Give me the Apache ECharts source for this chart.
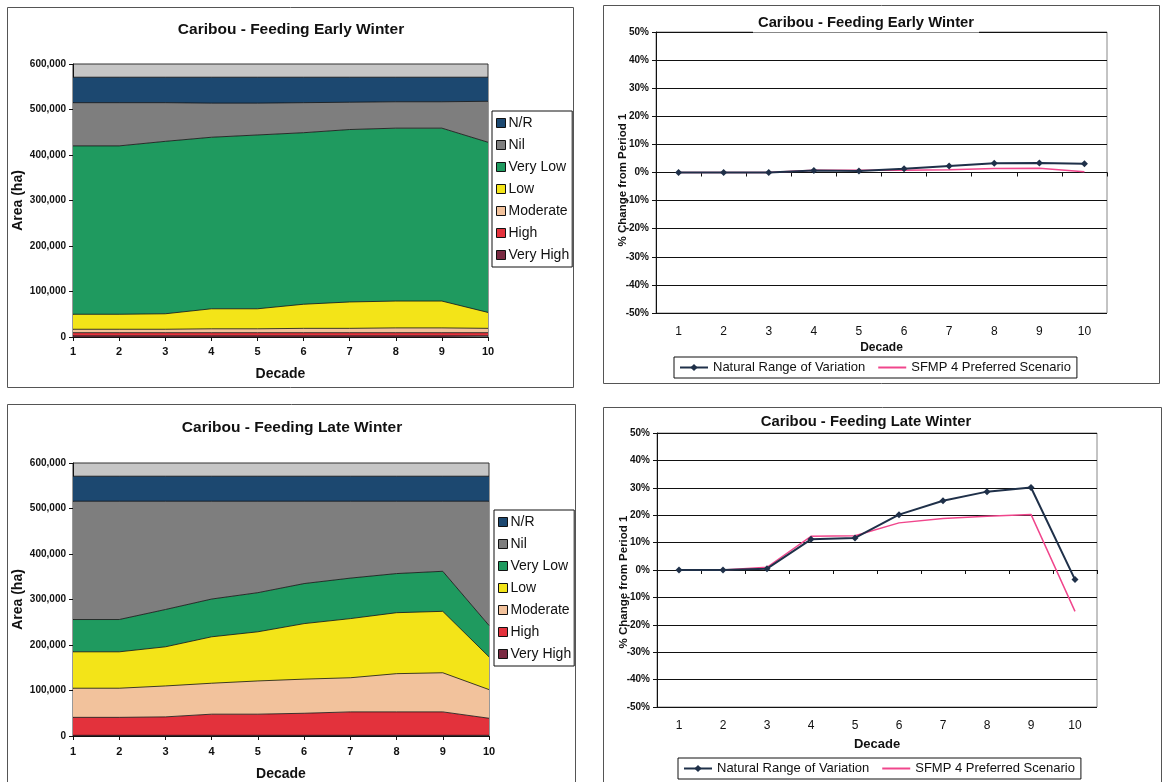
<!DOCTYPE html>
<html>
<head>
<meta charset="utf-8">
<script src="https://cdn.jsdelivr.net/npm/echarts@6/dist/echarts.min.js"></script>
<style>
  html, body { margin: 0; padding: 0; background: #fff; }
  #chart { width: 1162px; height: 782px; }
</style>
</head>
<body>
<div id="chart"></div>
<script>
// ---------- data ----------
const decades = ['1', '2', '3', '4', '5', '6', '7', '8', '9', '10'];
const classNames = ['Very High', 'High', 'Moderate', 'Low', 'Very Low', 'Nil', 'N/R'];
const legendOrder = ['N/R', 'Nil', 'Very Low', 'Low', 'Moderate', 'High', 'Very High'];

// Caribou - Feeding Early Winter, area (ha) per class
const ewVeryHigh = [2500, 2500, 2500, 2500, 2500, 2500, 2500, 2500, 2500, 2500];
const ewHigh     = [7000, 7000, 7000, 7000, 7000, 7000, 7000, 7000, 7000, 7000];
const ewModerate = [7500, 7500, 7500, 8500, 8500, 9500, 9500, 10500, 10500, 9500];
const ewLow      = [33000, 33000, 34000, 44000, 44000, 53000, 58000, 59000, 59000, 35000];
const ewVeryLow  = [370000, 370000, 379000, 377000, 382000, 377000, 379000, 380000, 380000, 374000];
const ewNil      = [95000, 95000, 85000, 75000, 70000, 66000, 60000, 58000, 58000, 90000];
const ewNR       = [56000, 56000, 56000, 57000, 57000, 56000, 55000, 54000, 54000, 53000];

// Caribou - Feeding Late Winter, area (ha) per class
const lwVeryHigh = [1500, 1500, 1500, 1500, 1500, 1500, 1500, 1500, 1500, 1500];
const lwHigh     = [39500, 39500, 40500, 46500, 46500, 48500, 51500, 51500, 51500, 37500];
const lwModerate = [64000, 64000, 68000, 68000, 73000, 75000, 75000, 84000, 86000, 63000];
const lwLow      = [80000, 80000, 86000, 102000, 108000, 122000, 130000, 134000, 135000, 72000];
const lwVeryLow  = [71000, 71000, 82000, 83000, 86000, 88000, 89000, 86000, 88000, 69000];
const lwNil      = [260000, 260000, 238000, 215000, 201000, 181000, 169000, 159000, 154000, 273000];
const lwNR       = [55000, 55000, 55000, 55000, 55000, 55000, 55000, 55000, 55000, 55000];

// % change from period 1
const ewNatural = [0, 0, 0, 0.7, 0.5, 1.3, 2.3, 3.3, 3.4, 3.1];
const ewSfmp    = [0, 0, 0, 0.8, 0.8, 0.8, 1.0, 1.4, 1.5, 0.3];
const lwNatural = [0, 0, 0.5, 11.2, 11.7, 20.2, 25.3, 28.6, 30.1, -3.5];
const lwSfmp    = [0, 0, 1.0, 12.3, 12.5, 17.2, 18.8, 19.6, 20.3, -15.1];

const natName = 'Natural Range of Variation';
const sfmpName = 'SFMP 4 Preferred Scenario';

// ---------- styles ----------
const FONT = '"Liberation Sans", Arial, sans-serif';
const classColors = {
  'Very High': '#7a2a42',
  'High': '#e3323c',
  'Moderate': '#f2c29c',
  'Low': '#f3e418',
  'Very Low': '#1f9a5f',
  'Nil': '#7e7e7e',
  'N/R': '#1c4870'
};
const natColor = '#1f3049';
const sfmpColor = '#f0468c';

const ewSets = [ewVeryHigh, ewHigh, ewModerate, ewLow, ewVeryLow, ewNil, ewNR];
const lwSets = [lwVeryHigh, lwHigh, lwModerate, lwLow, lwVeryLow, lwNil, lwNR];

function areaSeries(sets, idx, stack) {
  return classNames.map((name, i) => ({
    name: name,
    type: 'line',
    stack: stack,
    xAxisIndex: idx,
    yAxisIndex: idx,
    data: sets[i],
    symbol: 'none',
    lineStyle: { color: '#111', width: 0.8 },
    itemStyle: { color: classColors[name] },
    areaStyle: { color: classColors[name], opacity: 1 },
    emphasis: { disabled: true }
  }));
}

function leftX(gridIndex, labelMargin, nameGap) {
  return {
    type: 'category', gridIndex: gridIndex, data: decades, boundaryGap: false,
    name: 'Decade', nameLocation: 'middle', nameGap: nameGap, nameMoveOverlap: false,
    nameTextStyle: { fontFamily: FONT, fontSize: 14, fontWeight: 'bold', color: '#111' },
    axisLine: { lineStyle: { color: '#111', width: 1 } },
    axisTick: { show: true, length: 4, alignWithLabel: true, lineStyle: { color: '#111' } },
    axisLabel: { fontFamily: FONT, fontSize: 11, fontWeight: 'bold', color: '#111', margin: labelMargin, interval: 0 },
    splitLine: { show: false }
  };
}
function leftY(gridIndex) {
  return {
    type: 'value', gridIndex: gridIndex, min: 0, max: 600000, interval: 100000,
    name: 'Area (ha)', nameLocation: 'middle', nameGap: 48, nameMoveOverlap: false,
    nameTextStyle: { fontFamily: FONT, fontSize: 14, fontWeight: 'bold', color: '#111' },
    axisLine: { show: true, lineStyle: { color: '#111' } },
    axisTick: { show: true, length: 4, lineStyle: { color: '#111' } },
    axisLabel: { fontFamily: FONT, fontSize: 10, fontWeight: 'bold', color: '#111', margin: 7,
      formatter: v => v.toLocaleString('en-US') },
    splitLine: { show: false }
  };
}
function rightXLabels(gridIndex, nameGap, nameSize) {
  return {
    type: 'category', gridIndex: gridIndex, data: decades, boundaryGap: true, position: 'bottom',
    name: 'Decade', nameLocation: 'middle', nameGap: nameGap, nameMoveOverlap: false,
    nameTextStyle: { fontFamily: FONT, fontSize: nameSize, fontWeight: 'bold', color: '#111' },
    axisLine: { show: false, onZero: false },
    axisTick: { show: false },
    axisLabel: { fontFamily: FONT, fontSize: 12, color: '#111', margin: 13, interval: 0 },
    splitLine: { show: false }
  };
}
function rightXZero(gridIndex) {
  return {
    type: 'category', gridIndex: gridIndex, data: decades, boundaryGap: true, position: 'bottom',
    axisLine: { show: true, onZero: true, lineStyle: { color: '#111', width: 1 } },
    axisTick: { show: true, length: 4, interval: 0, lineStyle: { color: '#111' } },
    axisLabel: { show: false },
    splitLine: { show: false }
  };
}
function rightY(gridIndex, namePad) {
  return {
    type: 'value', gridIndex: gridIndex, min: -50, max: 50, interval: 10,
    name: '% Change from Period 1', nameLocation: 'middle', nameGap: 27, nameMoveOverlap: false,
    nameTextStyle: { fontFamily: FONT, fontSize: 11.5, fontWeight: 'bold', color: '#111', padding: [0, namePad, 0, 0] },
    axisLine: { show: true, lineStyle: { color: '#111' } },
    axisTick: { show: true, length: 4, lineStyle: { color: '#111' } },
    axisLabel: { fontFamily: FONT, fontSize: 10, fontWeight: 'bold', color: '#111', margin: 7,
      formatter: '{value}%' },
    splitLine: { show: true, lineStyle: { color: '#111', width: 1 } }
  };
}
function lineSeries(xi, yi, nat, sfmp) {
  return [
    {
      name: natName, type: 'line', xAxisIndex: xi, yAxisIndex: yi, data: nat,
      symbol: 'diamond', symbolSize: 7,
      lineStyle: { color: natColor, width: 2 },
      itemStyle: { color: natColor },
      emphasis: { disabled: true }, z: 3
    },
    {
      name: sfmpName, type: 'line', xAxisIndex: xi, yAxisIndex: yi, data: sfmp,
      symbol: 'none',
      lineStyle: { color: sfmpColor, width: 1.5 },
      itemStyle: { color: sfmpColor },
      emphasis: { disabled: true }, z: 2
    }
  ];
}
function leftLegend(left, top) {
  return {
    orient: 'vertical', left: left, top: top,
    padding: [5, 3, 5, 4], itemGap: 8, itemWidth: 9, itemHeight: 9,
    icon: 'rect',
    itemStyle: { borderColor: '#111', borderWidth: 1 },
    textStyle: { fontFamily: FONT, fontSize: 14, color: '#111', padding: [0, 0, 0, -2] },
    borderColor: '#111', borderWidth: 1, backgroundColor: '#fff',
    selectedMode: false,
    data: legendOrder.map(n => ({ name: n, itemStyle: { color: classColors[n] } }))
  };
}
function rightLegend(left, top) {
  return {
    orient: 'horizontal', left: left, top: top,
    padding: [4, 6, 4, 5], itemGap: 12, itemWidth: 28, itemHeight: 9,
    textStyle: { fontFamily: FONT, fontSize: 13, color: '#111' },
    borderColor: '#111', borderWidth: 1, backgroundColor: '#fff',
    selectedMode: false,
    data: [
      { name: natName },
      { name: sfmpName, itemStyle: { opacity: 0 } }
    ]
  };
}
function panel(x, y, w, h) {
  return { type: 'rect', silent: true, z: 0,
    shape: { x: x + 0.5, y: y + 0.5, width: w, height: h },
    style: { fill: 'none', stroke: '#555', lineWidth: 1 } };
}
function titleAt(text, cx, cy, size, bg) {
  return {
    text: text, left: bg ? cx - 5 : cx, top: bg ? cy - 2 : cy,
    textAlign: 'center', textVerticalAlign: 'middle',
    padding: bg ? [2, 5] : 0,
    backgroundColor: bg ? '#fff' : 'transparent',
    textStyle: { fontFamily: FONT, fontSize: size, fontWeight: 'bold', color: '#111' }
  };
}

const option = {
  animation: false,
  backgroundColor: '#fff',
  graphic: [
    panel(7, 7, 566, 380),
    panel(603, 5, 556, 378),
    panel(7, 404, 568, 400),
    panel(603, 407, 558, 400)
  ],
  title: [
    titleAt('Caribou - Feeding Early Winter', 291, 30, 15.5, false),
    titleAt('Caribou - Feeding Late Winter', 292, 428, 15.5, false),
    titleAt('Caribou - Feeding Early Winter', 866, 23, 14.8, true),
    titleAt('Caribou - Feeding Late Winter', 866, 422, 14.8, true)
  ],
  legend: [
    leftLegend(492, 111),
    leftLegend(494, 510),
    rightLegend(674, 357),
    rightLegend(678, 758)
  ],
  grid: [
    { left: 73, top: 64, width: 415, height: 273, show: true, backgroundColor: '#c6c6c6', borderColor: '#333', borderWidth: 1 },
    { left: 73, top: 463, width: 416, height: 273, show: true, backgroundColor: '#c6c6c6', borderColor: '#333', borderWidth: 1 },
    { left: 656, top: 32, width: 451, height: 281, show: true, backgroundColor: '#fff', borderColor: '#888', borderWidth: 1 },
    { left: 657, top: 433, width: 440, height: 274, show: true, backgroundColor: '#fff', borderColor: '#888', borderWidth: 1 }
  ],
  xAxis: [
    leftX(0, 9, 30),
    leftX(1, 10, 31),
    rightXLabels(2, 29, 12),
    rightXZero(2),
    rightXLabels(3, 31, 13),
    rightXZero(3)
  ],
  yAxis: [
    leftY(0),
    leftY(1),
    rightY(2, 15),
    rightY(3, 24)
  ],
  series: [].concat(
    areaSeries(ewSets, 0, 'ew'),
    areaSeries(lwSets, 1, 'lw').map(s => Object.assign(s, { xAxisIndex: 1, yAxisIndex: 1 })),
    lineSeries(2, 2, ewNatural, ewSfmp),
    lineSeries(4, 3, lwNatural, lwSfmp)
  )
};

const chart = echarts.init(document.getElementById('chart'), null, { renderer: 'canvas' });
chart.setOption(option);
</script>
</body>
</html>
